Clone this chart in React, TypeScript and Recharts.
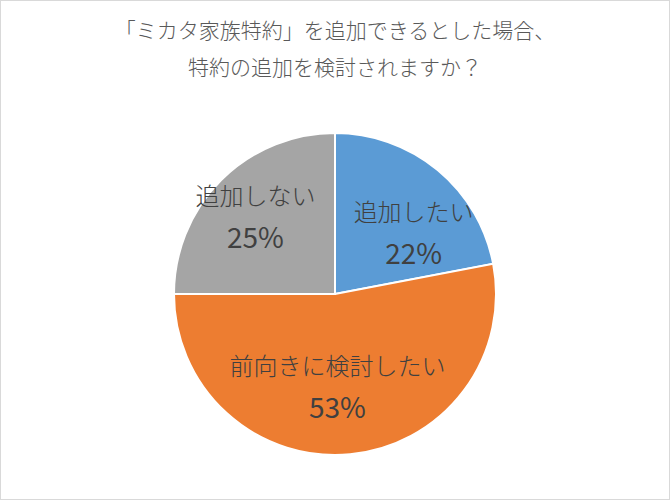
import React from 'react';
import { PieChart, Pie, Cell } from 'recharts';

// アンケート結果
const answers = ['追加したい', '前向きに検討したい', '追加しない'];
const shares = [22, 53, 25];
const titleLines = ['「ミカタ家族特約」を追加できるとした場合、', '特約の追加を検討されますか？'];

const COLORS = ['#5B9BD5', '#ED7D31', '#A5A5A5'];
// label nudges (px) from the mid-angle anchor, Excel "best fit" style
const LABEL_NUDGE = [
  [15, 14],
  [-7, -8],
  [-9, -8],
];

const FONT = '"Noto Sans CJK JP", "Noto Sans", sans-serif';

const pieData = answers.map((name, i) => ({ name, value: shares[i] }));

const RADIAN = Math.PI / 180;

const renderLabel = (props: any) => {
  const { cx, cy, midAngle, outerRadius, index, name, value } = props;
  const r = outerRadius * 0.62;
  const x = cx + r * Math.cos(-midAngle * RADIAN) + LABEL_NUDGE[index][0];
  const y = cy + r * Math.sin(-midAngle * RADIAN) + LABEL_NUDGE[index][1];
  return (
    <g>
      <text
        x={x}
        y={y - 21}
        textAnchor="middle"
        dominantBaseline="central"
        fill="#404040"
        fontSize={24}
        fontFamily={FONT}
        fontWeight={300}
      >
        {name}
      </text>
      <text
        x={x}
        y={y + 21}
        textAnchor="middle"
        dominantBaseline="central"
        fill="#404040"
        fontSize={28}
        fontFamily={FONT}
      >
        {value}%
      </text>
    </g>
  );
};

const App = () => {
  return (
    <div style={{ position: 'relative', width: 670, height: 500, background: '#fff' }}>
      <style>{`body{margin:0}`}</style>
      <PieChart width={670} height={500} margin={{ top: 0, right: 0, bottom: 0, left: 0 }}>
        <Pie
          data={pieData}
          dataKey="value"
          nameKey="name"
          cx={335}
          cy={294}
          outerRadius={161}
          startAngle={90}
          endAngle={-270}
          stroke="#fff"
          strokeWidth={2}
          label={renderLabel}
          labelLine={false}
          isAnimationActive={false}
        >
          {pieData.map((d, i) => (
            <Cell key={d.name} fill={COLORS[i]} />
          ))}
        </Pie>
      </PieChart>
      {titleLines.map((line, i) => (
        <div
          key={i}
          style={{
            position: 'absolute',
            left: 0,
            width: 670,
            top: i === 0 ? 16 : 53,
            textAlign: 'center',
            fontFamily: FONT,
            fontSize: 21,
            fontWeight: 300,
            lineHeight: '26px',
            color: '#595959',
          }}
        >
          {line}
        </div>
      ))}
      <div
        style={{
          position: 'absolute',
          inset: 0,
          border: '1px solid #d9d9d9',
          pointerEvents: 'none',
        }}
      />
    </div>
  );
};

export default App;
